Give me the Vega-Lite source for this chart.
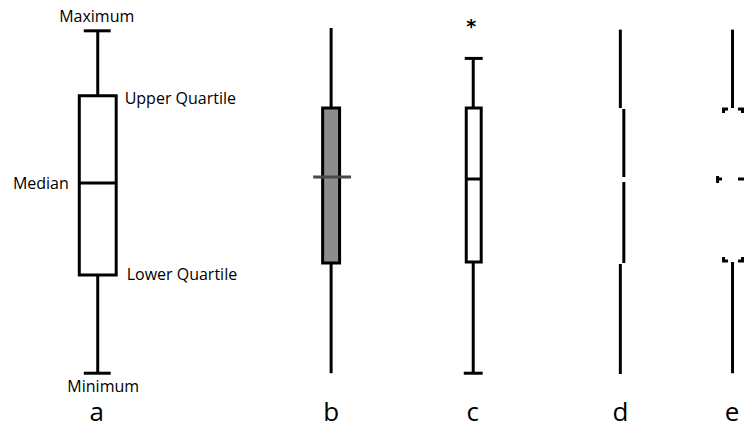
{
  "$schema": "https://vega.github.io/schema/vega-lite/v6.json",
  "width": 746,
  "height": 428,
  "autosize": {"type": "fit", "contains": "padding"},
  "padding": 0,
  "background": "white",
  "config": {"view": {"stroke": null}},
  "datasets": {
    "boxes": [
      {"panel": "a", "x": 79.5, "x2": 116.5, "lo": 28.68, "hi": 81.0, "fill": "white"},
      {"panel": "b", "x": 323.5, "x2": 340.5, "lo": 32.18, "hi": 77.45, "fill": "#8c8c8c"},
      {"panel": "c", "x": 467.5, "x2": 482.5, "lo": 32.48, "hi": 77.45, "fill": "white"}
    ],
    "vsegs": [
      {"panel": "a", "x": 98, "y": 81.0, "y2": 100.0},
      {"panel": "a", "x": 98, "y": 0.0, "y2": 28.68},
      {"panel": "b", "x": 332, "y": 77.45, "y2": 100.82},
      {"panel": "b", "x": 332, "y": 0.0, "y2": 32.18},
      {"panel": "c", "x": 474.5, "y": 77.45, "y2": 91.94},
      {"panel": "c", "x": 474.5, "y": 0.0, "y2": 32.48},
      {"panel": "d", "x": 622, "y": 77.45, "y2": 100.35},
      {"panel": "d", "x": 625.5, "y": 57.3, "y2": 77.16},
      {"panel": "d", "x": 625.5, "y": 32.18, "y2": 55.84},
      {"panel": "d", "x": 622, "y": -0.23, "y2": 31.89},
      {"panel": "e", "x": 734.5, "y": 77.45, "y2": 100.35},
      {"panel": "e", "x": 734.5, "y": 0.0, "y2": 32.48},
      {"panel": "e", "x": 725.5, "y": 75.99, "y2": 77.16},
      {"panel": "e", "x": 744.5, "y": 75.99, "y2": 77.16},
      {"panel": "e", "x": 719.5, "y": 55.55, "y2": 57.59},
      {"panel": "e", "x": 725.5, "y": 32.77, "y2": 33.94},
      {"panel": "e", "x": 744.5, "y": 32.77, "y2": 33.94}
    ],
    "hsegs": [
      {"panel": "a", "part": "cap", "x": 84, "x2": 111, "y": 100.0, "color": "black"},
      {"panel": "a", "part": "cap", "x": 84, "x2": 111, "y": 0.0, "color": "black"},
      {"panel": "a", "part": "median", "x": 79.5, "x2": 116.5, "y": 55.55, "color": "black"},
      {"panel": "b", "part": "median", "x": 314, "x2": 352, "y": 57.3, "color": "#4a4a4a"},
      {"panel": "c", "part": "cap", "x": 466, "x2": 484, "y": 91.94, "color": "black"},
      {"panel": "c", "part": "cap", "x": 465, "x2": 484, "y": 0.0, "color": "black"},
      {"panel": "c", "part": "median", "x": 467.5, "x2": 482.5, "y": 56.72, "color": "black"},
      {"panel": "e", "part": "q3", "x": 724, "x2": 730, "y": 77.16, "color": "black"},
      {"panel": "e", "part": "q3", "x": 740, "x2": 746, "y": 77.16, "color": "black"},
      {"panel": "e", "part": "median", "x": 718, "x2": 724, "y": 56.72, "color": "black"},
      {"panel": "e", "part": "median", "x": 740, "x2": 746, "y": 56.72, "color": "black"},
      {"panel": "e", "part": "q1", "x": 724, "x2": 730, "y": 32.77, "color": "black"},
      {"panel": "e", "part": "q1", "x": 740, "x2": 746, "y": 32.77, "color": "black"}
    ],
    "labelsCenter": [
      {"text": "Maximum", "x": 97, "y": 104.03},
      {"text": "Minimum", "x": 103.5, "y": -4.0}
    ],
    "labelsLeft": [
      {"text": "Upper Quartile", "x": 125, "y": 80.08},
      {"text": "Lower Quartile", "x": 127, "y": 28.68}
    ],
    "labelsRight": [
      {"text": "Median", "x": 69, "y": 55.26}
    ],
    "letters": [
      {"text": "a", "x": 97, "y": -11.5},
      {"text": "b", "x": 332, "y": -11.5},
      {"text": "c", "x": 474, "y": -11.5},
      {"text": "d", "x": 622, "y": -11.5},
      {"text": "e", "x": 734, "y": -11.5}
    ],
    "outliers": [
      {"text": "*", "x": 472.5, "y": 101.11}
    ]
  },
  "layer": [
    {
      "data": {"name": "boxes"},
      "mark": {"type": "rect", "stroke": "black", "strokeWidth": 3},
      "encoding": {
        "x": {"field": "x", "type": "quantitative", "scale": {"domain": [0, 746], "nice": false, "zero": false}, "axis": null},
        "x2": {"field": "x2"},
        "y": {"field": "lo", "type": "quantitative", "scale": {"domain": [-16, 109], "nice": false, "zero": false}, "axis": null},
        "y2": {"field": "hi"},
        "fill": {"field": "fill", "type": "nominal", "scale": null}
      }
    },
    {
      "data": {"name": "vsegs"},
      "mark": {"type": "rule", "color": "black", "strokeWidth": 3, "strokeCap": "butt"},
      "encoding": {
        "x": {"field": "x", "type": "quantitative", "scale": {"domain": [0, 746], "nice": false, "zero": false}, "axis": null},
        "y": {"field": "y", "type": "quantitative", "scale": {"domain": [-16, 109], "nice": false, "zero": false}, "axis": null},
        "y2": {"field": "y2"}
      }
    },
    {
      "data": {"name": "hsegs"},
      "mark": {"type": "rule", "strokeWidth": 3, "strokeCap": "butt"},
      "encoding": {
        "x": {"field": "x", "type": "quantitative", "scale": {"domain": [0, 746], "nice": false, "zero": false}, "axis": null},
        "x2": {"field": "x2"},
        "y": {"field": "y", "type": "quantitative", "scale": {"domain": [-16, 109], "nice": false, "zero": false}, "axis": null},
        "color": {"field": "color", "type": "nominal", "scale": null}
      }
    },
    {
      "data": {"name": "labelsCenter"},
      "mark": {"type": "text", "font": "Open Sans", "fontSize": 16, "baseline": "middle", "align": "center", "color": "black"},
      "encoding": {
        "x": {"field": "x", "type": "quantitative", "scale": {"domain": [0, 746], "nice": false, "zero": false}, "axis": null},
        "y": {"field": "y", "type": "quantitative", "scale": {"domain": [-16, 109], "nice": false, "zero": false}, "axis": null},
        "text": {"field": "text"}
      }
    },
    {
      "data": {"name": "labelsLeft"},
      "mark": {"type": "text", "font": "Open Sans", "fontSize": 16, "baseline": "middle", "align": "left", "color": "black"},
      "encoding": {
        "x": {"field": "x", "type": "quantitative", "scale": {"domain": [0, 746], "nice": false, "zero": false}, "axis": null},
        "y": {"field": "y", "type": "quantitative", "scale": {"domain": [-16, 109], "nice": false, "zero": false}, "axis": null},
        "text": {"field": "text"}
      }
    },
    {
      "data": {"name": "labelsRight"},
      "mark": {"type": "text", "font": "Open Sans", "fontSize": 16, "baseline": "middle", "align": "right", "color": "black"},
      "encoding": {
        "x": {"field": "x", "type": "quantitative", "scale": {"domain": [0, 746], "nice": false, "zero": false}, "axis": null},
        "y": {"field": "y", "type": "quantitative", "scale": {"domain": [-16, 109], "nice": false, "zero": false}, "axis": null},
        "text": {"field": "text"}
      }
    },
    {
      "data": {"name": "letters"},
      "mark": {"type": "text", "font": "Open Sans", "fontSize": 26, "baseline": "middle", "align": "center", "color": "black"},
      "encoding": {
        "x": {"field": "x", "type": "quantitative", "scale": {"domain": [0, 746], "nice": false, "zero": false}, "axis": null},
        "y": {"field": "y", "type": "quantitative", "scale": {"domain": [-16, 109], "nice": false, "zero": false}, "axis": null},
        "text": {"field": "text"}
      }
    },
    {
      "data": {"name": "outliers"},
      "mark": {"type": "text", "font": "DejaVu Sans", "fontSize": 19, "fontWeight": "bold", "baseline": "middle", "align": "center", "color": "black"},
      "encoding": {
        "x": {"field": "x", "type": "quantitative", "scale": {"domain": [0, 746], "nice": false, "zero": false}, "axis": null},
        "y": {"field": "y", "type": "quantitative", "scale": {"domain": [-16, 109], "nice": false, "zero": false}, "axis": null},
        "text": {"field": "text"}
      }
    }
  ]
}
